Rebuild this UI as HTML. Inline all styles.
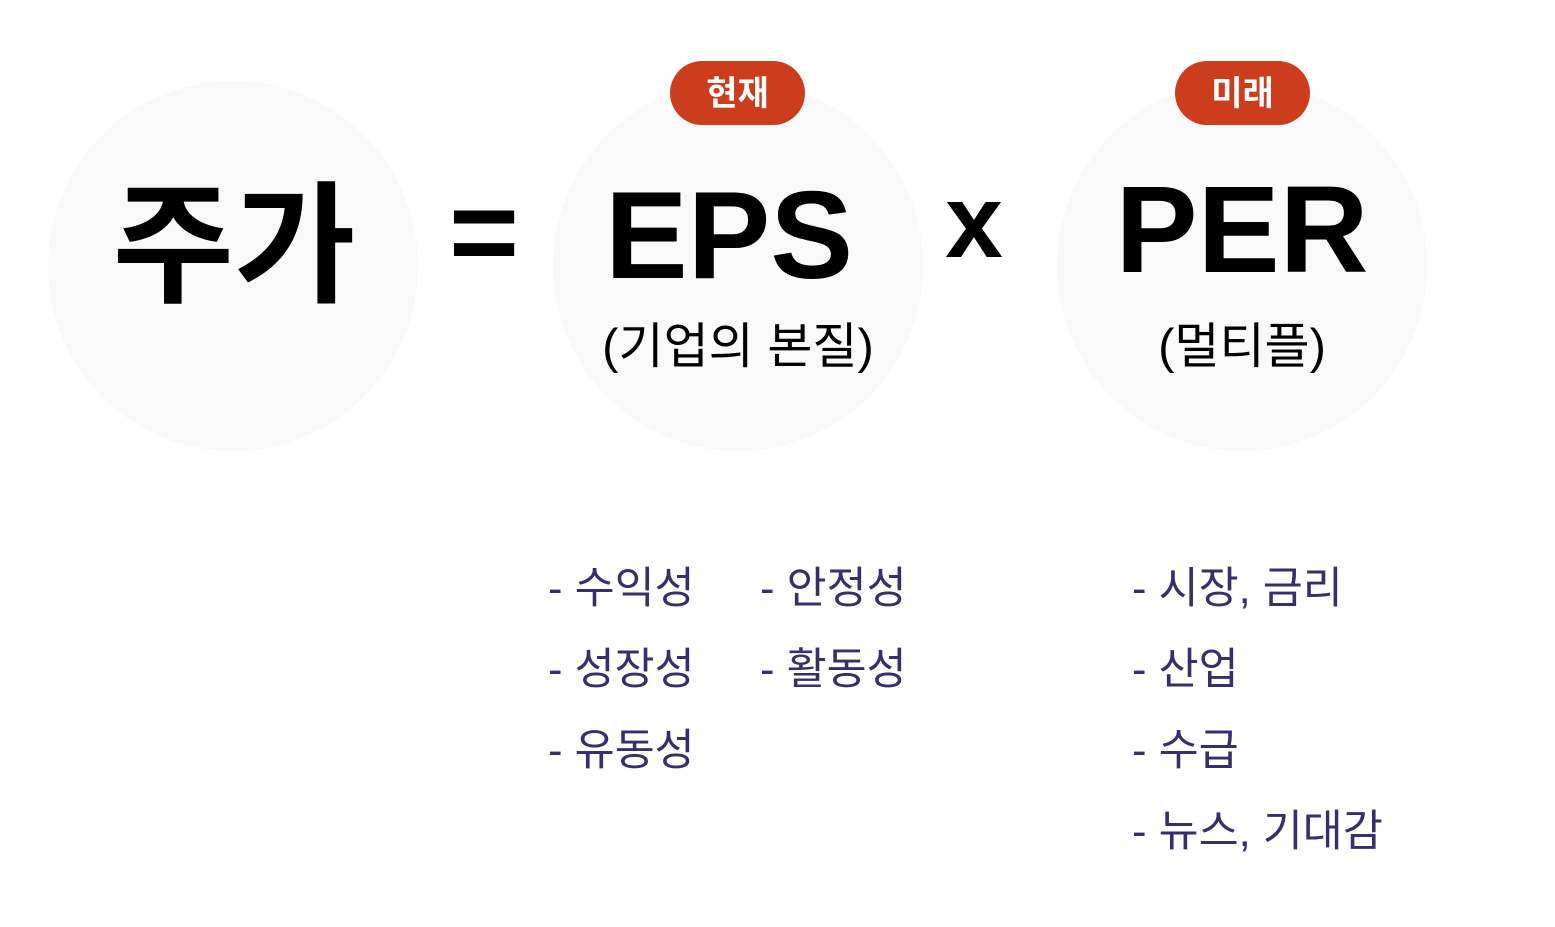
<!DOCTYPE html>
<html><head><meta charset="utf-8"><style>
body{margin:0;width:1555px;height:927px;background:#fff;position:relative;overflow:hidden;font-family:"Liberation Sans","Noto Sans CJK KR",sans-serif}
.c{position:absolute;width:370px;height:370px;border-radius:50%;background:#f9f9f9;top:81px}
.t{position:absolute;white-space:nowrap;line-height:1}
.b{position:absolute;top:61px;width:135px;height:64px;border-radius:32px;background:#cc3d1e;color:#fff;font-weight:bold;font-size:34px;text-align:center;line-height:66px}
.big{font-weight:bold;color:#000;transform:translateX(-50%)}
.l{position:absolute;color:#3a2d6b;font-size:43.5px;white-space:nowrap;line-height:1}
</style></head><body>
<div class="c" style="left:48px"></div>
<div class="c" style="left:553px"></div>
<div class="c" style="left:1057px"></div>
<div class="b" style="left:670px">현재</div>
<div class="b" style="left:1175px">미래</div>
<div class="t big" style="left:234px;top:181px;font-size:132px">주가</div>
<div class="t big" style="left:484px;top:172px;font-size:120px">=</div>
<div class="t big" style="left:729px;top:174px;font-size:124px">EPS</div>
<div class="t big" style="left:974px;top:170px;font-size:104px">x</div>
<div class="t big" style="left:1242px;top:169px;font-size:123px">PER</div>
<div class="t" style="left:738px;top:323px;font-size:49px;transform:translateX(-50%)">(기업의 본질)</div>
<div class="t" style="left:1242px;top:323px;font-size:49px;transform:translateX(-50%)">(멀티플)</div>
<div class="l" style="left:548px;top:568px">- 수익성</div>
<div class="l" style="left:760px;top:568px">- 안정성</div>
<div class="l" style="left:548px;top:649px">- 성장성</div>
<div class="l" style="left:760px;top:649px">- 활동성</div>
<div class="l" style="left:548px;top:730px">- 유동성</div>
<div class="l" style="left:1132px;top:568px">- 시장, 금리</div>
<div class="l" style="left:1132px;top:649px">- 산업</div>
<div class="l" style="left:1132px;top:730px">- 수급</div>
<div class="l" style="left:1132px;top:811px">- 뉴스, 기대감</div>
</body></html>
